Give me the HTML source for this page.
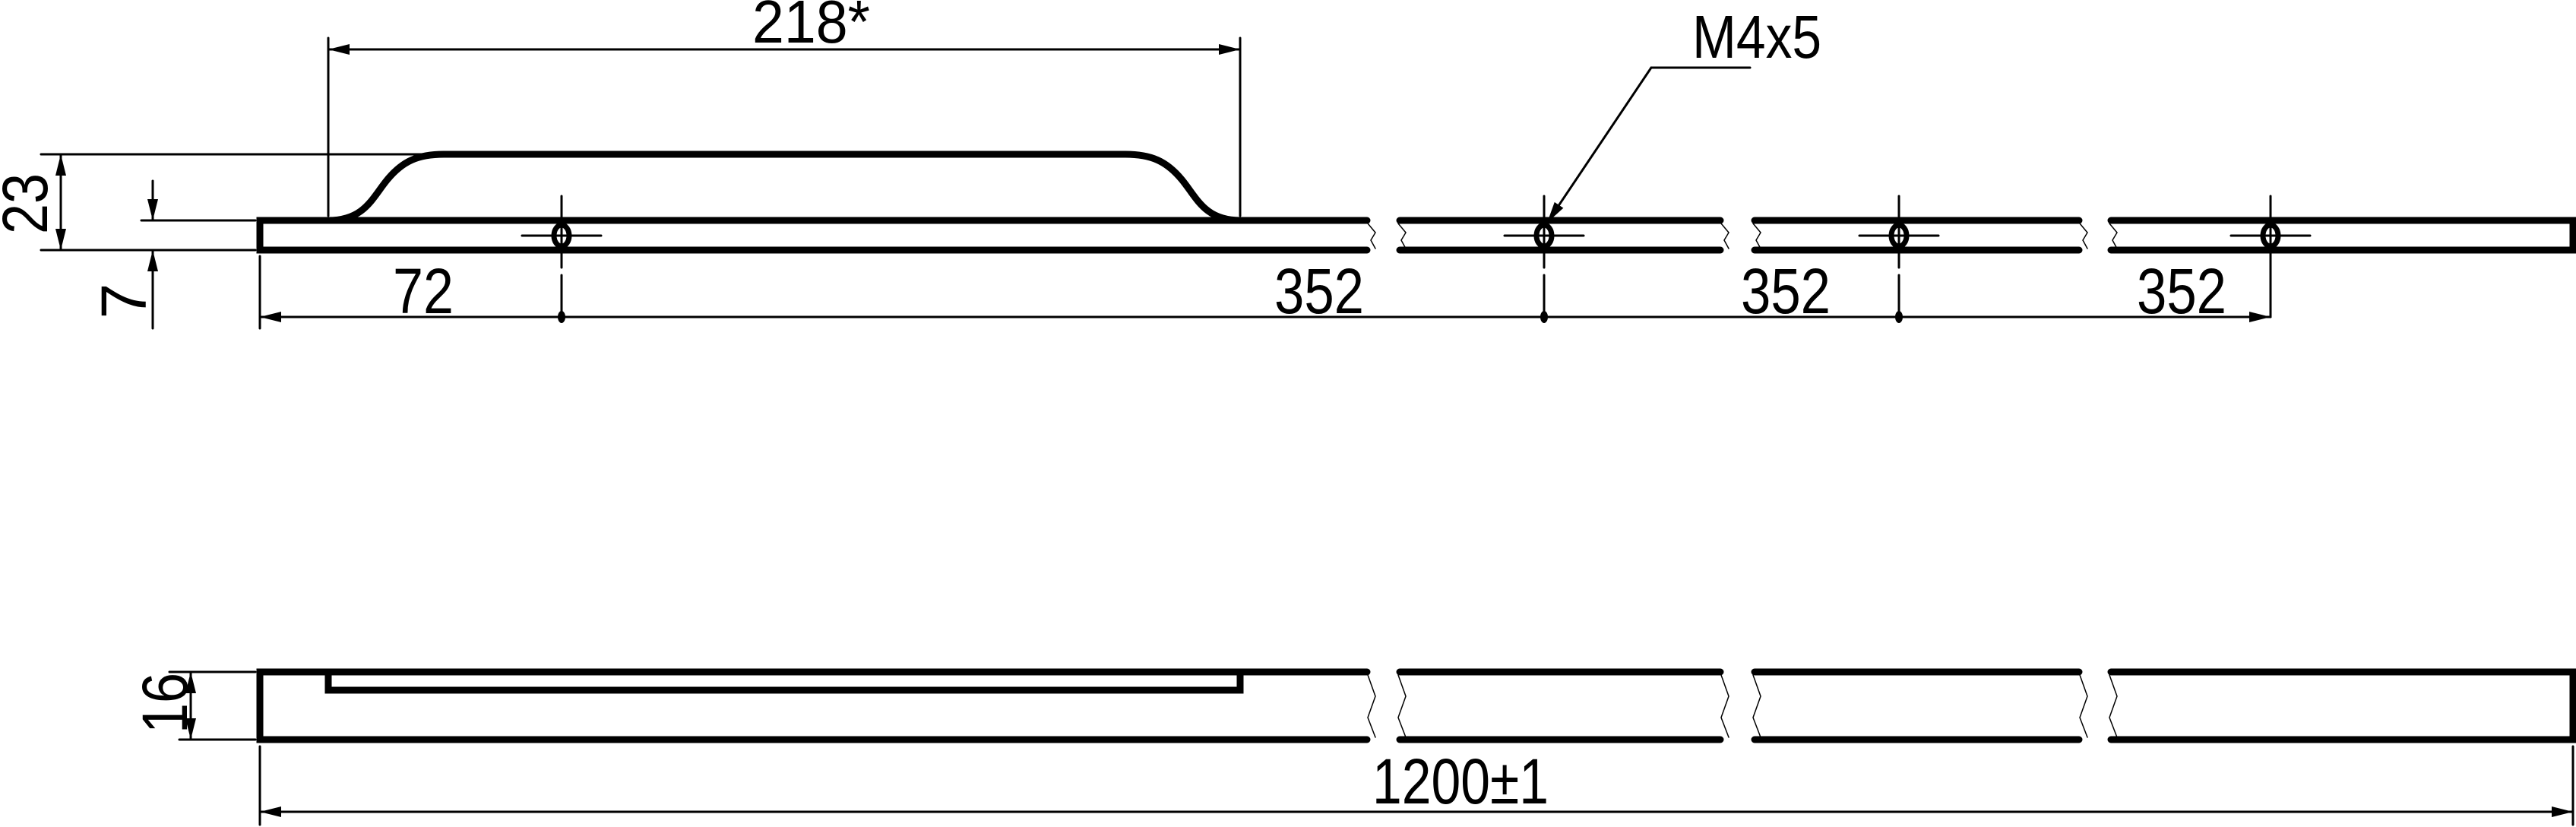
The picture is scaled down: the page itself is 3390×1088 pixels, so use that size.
<!DOCTYPE html>
<html><head><meta charset="utf-8"><style>
html,body{margin:0;padding:0;background:#fff;}
svg{display:block;}
text{font-family:"Liberation Sans",sans-serif;fill:#000;}
</style></head><body>
<svg width="3390" height="1088" viewBox="0 0 3390 1088" xmlns="http://www.w3.org/2000/svg">
<defs>
<marker id="a" viewBox="0 0 28 14" refX="28" refY="7" markerWidth="28" markerHeight="14" markerUnits="userSpaceOnUse" orient="auto-start-reverse"><path d="M0,0 L28,7 L0,14 z" fill="#000"/></marker>
</defs>
<g stroke="#000" fill="none" stroke-linecap="round">
<g stroke-width="9">
<path d="M1799,290 L342,290 L342,329 L1799,329"/>
<path d="M1842,290 L2264,290 M1842,329 L2264,329"/>
<path d="M2309,290 L2736,290 M2309,329 L2736,329"/>
<path d="M2778,290 L3386,290 L3386,329 L2778,329"/>
<path d="M432,290 C480,290 490,260 510,236 C530,212 550,203 584,203 L1481,203 C1515,203 1535,212 1555,236 C1575,260 1585,290 1632,290"/>
</g>
<g stroke-width="1.5">
<path d="M1800,294 L1810,306 L1804,316 L1810,327"/>
<path d="M1840,294 L1850,306 L1844,316 L1850,327"/>
<path d="M2265,294 L2275,306 L2269,316 L2275,327"/>
<path d="M2307,294 L2317,306 L2311,316 L2317,327"/>
<path d="M2737,294 L2747,306 L2741,316 L2747,327"/>
<path d="M2776,294 L2786,306 L2780,316 L2786,327"/>
</g>
<g stroke-width="7">
<ellipse cx="739" cy="310" rx="10" ry="14"/>
<ellipse cx="2032" cy="310" rx="10" ry="14"/>
<ellipse cx="2499" cy="310" rx="10" ry="14"/>
<ellipse cx="2988" cy="310" rx="10" ry="14"/>
</g>
<g stroke-width="3">
<path d="M687,310 H791 M1980,310 H2084 M2447,310 H2551 M2936,310 H3040"/>
<path d="M739,258 V352 M739,362 V417"/>
<path d="M2032,258 V352 M2032,362 V417"/>
<path d="M2499,258 V352 M2499,362 V417"/>
<path d="M2988,258 V417"/>
<path d="M432,50 V284 M1632,50 V284"/>
<path d="M432,65 H1632" marker-start="url(#a)" marker-end="url(#a)"/>
<path d="M54,203 H572 M54,329 H336"/>
<path d="M80,203 V329" marker-start="url(#a)" marker-end="url(#a)"/>
<path d="M186,290 H336"/>
<path d="M201,238 V290" marker-end="url(#a)"/>
<path d="M201,432 V329" marker-end="url(#a)"/>
<path d="M342,337 V432"/>
<path d="M342,417 H2988" marker-start="url(#a)" marker-end="url(#a)"/>
<path d="M2173,89 H2303"/>
<path d="M2173,89 L2036,293" marker-end="url(#a)"/>
</g>
<g fill="#000" stroke="none">
<ellipse cx="739" cy="417" rx="5" ry="8"/>
<ellipse cx="2032" cy="417" rx="5" ry="8"/>
<ellipse cx="2499" cy="417" rx="5" ry="8"/>
</g>
<g stroke-width="9">
<path d="M1799,884 L342,884 L342,973 L1799,973"/>
<path d="M1842,884 L2264,884 M1842,973 L2264,973"/>
<path d="M2309,884 L2736,884 M2309,973 L2736,973"/>
<path d="M2778,884 L3386,884 L3386,973 L2778,973"/>
<path d="M432,884 V908 H1632 V884"/>
</g>
<g stroke-width="1.5">
<path d="M1800,888 L1810,916 L1800,944 L1810,970"/>
<path d="M1840,888 L1850,916 L1840,944 L1850,970"/>
<path d="M2265,888 L2275,916 L2265,944 L2275,970"/>
<path d="M2307,888 L2317,916 L2307,944 L2317,970"/>
<path d="M2737,888 L2747,916 L2737,944 L2747,970"/>
<path d="M2776,888 L2786,916 L2776,944 L2786,970"/>
</g>
<g stroke-width="3">
<path d="M223,884 H336 M236,973 H336"/>
<path d="M251,884 V973" marker-start="url(#a)" marker-end="url(#a)"/>
<path d="M342,982 V1085 M3386,982 V1085"/>
<path d="M342,1068 H3386" marker-start="url(#a)" marker-end="url(#a)"/>
</g>
</g>
<text x="990" y="56" font-size="80" textLength="155" lengthAdjust="spacingAndGlyphs">218*</text>
<text x="2227" y="76" font-size="80" textLength="170" lengthAdjust="spacingAndGlyphs">M4x5</text>
<text x="517" y="412" font-size="84" textLength="80" lengthAdjust="spacingAndGlyphs">72</text>
<text x="1677" y="412" font-size="84" textLength="118" lengthAdjust="spacingAndGlyphs">352</text>
<text x="2291" y="412" font-size="84" textLength="118" lengthAdjust="spacingAndGlyphs">352</text>
<text x="2812" y="412" font-size="84" textLength="118" lengthAdjust="spacingAndGlyphs">352</text>
<text x="1806" y="1057" font-size="84" textLength="232" lengthAdjust="spacingAndGlyphs">1200±1</text>
<text transform="translate(62,268) rotate(-90)" text-anchor="middle" font-size="84" textLength="80" lengthAdjust="spacingAndGlyphs">23</text>
<text transform="translate(192,396) rotate(-90)" text-anchor="middle" font-size="84">7</text>
<text transform="translate(246,925) rotate(-90)" text-anchor="middle" font-size="84" textLength="80" lengthAdjust="spacingAndGlyphs">16</text>
</svg>
</body></html>
